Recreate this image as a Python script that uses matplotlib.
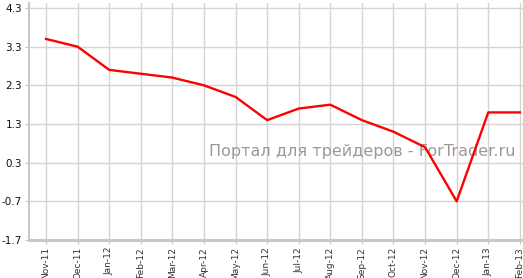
import matplotlib.pyplot as plt

months = ['Nov-11', 'Dec-11', 'Jan-12', 'Feb-12', 'Mar-12', 'Apr-12', 'May-12', 'Jun-12',
          'Jul-12', 'Aug-12', 'Sep-12', 'Oct-12', 'Nov-12', 'Dec-12', 'Jan-13', 'Feb-13']
values = [3.5, 3.3, 2.7, 2.6, 2.5, 2.3, 2.0, 1.4, 1.7, 1.8, 1.4, 1.1, 0.7, -0.7, 1.6, 1.6]
yticks = [-1.7, -0.7, 0.3, 1.3, 2.3, 3.3, 4.3]

fig = plt.figure(figsize=(5.23, 2.78), dpi=100)
ax = fig.add_axes([29 / 523, 38 / 278, 494 / 523, 237 / 278])

x = range(len(months))
ax.plot(x, values, color='#ff0000', lw=1.7, zorder=3)

ax.set_xlim(-0.54, 15.1)
ax.set_ylim(-1.7, 4.43)
ax.set_yticks(yticks)
ax.set_yticklabels([str(v) for v in yticks], fontsize=7.5, color='#111111')
ax.set_xticks(list(x))
ax.set_xticklabels(months, rotation=90, fontsize=6.5, color='#333333')
ax.tick_params(axis='y', length=3, color='#c8c8c8', pad=2)
ax.tick_params(axis='x', length=3, color='#c8c8c8', pad=2)

ax.grid(True, color='#d4d4d4', lw=1)
ax.set_axisbelow(True)
for s in ['top', 'right']:
    ax.spines[s].set_visible(False)
ax.spines['left'].set_color('#c8c8c8')
ax.spines['left'].set_linewidth(1.5)
ax.spines['bottom'].set_color('#c8c8c8')
ax.spines['bottom'].set_linewidth(2.2)

ax.text(0.984, 0.375, 'Портал для трейдеров - ForTrader.ru', transform=ax.transAxes,
        ha='right', va='center', fontsize=11.5, color='#a09696', zorder=2)

fig.savefig('out.png', dpi=100)
